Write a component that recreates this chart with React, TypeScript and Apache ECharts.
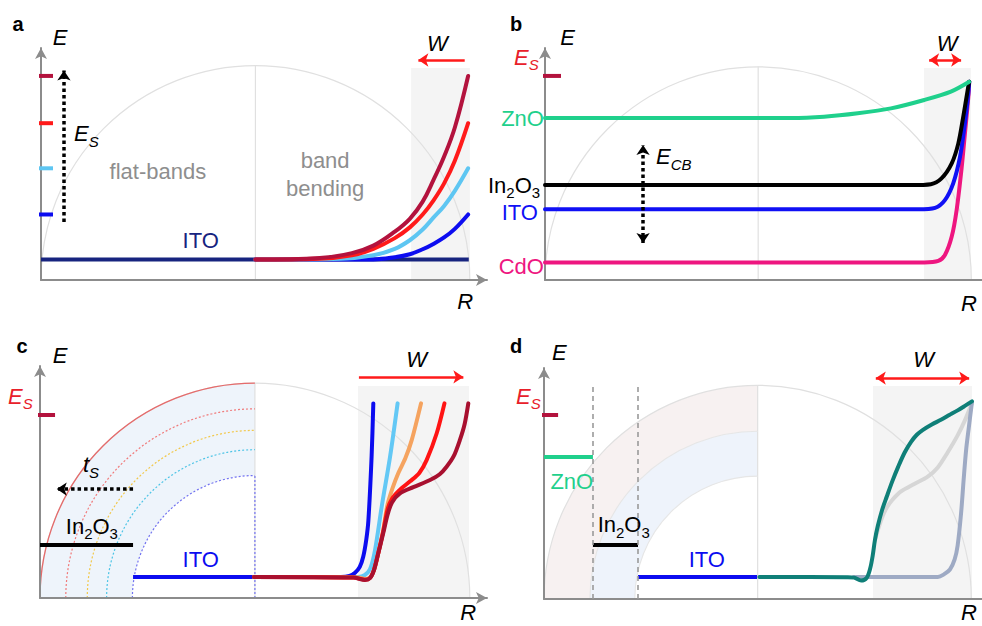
import { useEffect, useRef } from "react";
import * as echarts from "echarts";

type Pt = [number, number];
type Tok = [string, boolean]; // [text, subscript?]

const FONT = '"Liberation Sans", Arial, Helvetica, sans-serif';

// ---------- a: ITO nanocrystal, band bending for rising surface energy E_S ----------
const aSurfaceLevels = [95, 73, 52, 30.5];
const aLevelColors = ["#b3123d", "#ff1a1a", "#5ec6f2", "#0c0cf0"];
const aItoLevel = 9.5;
const aBendBlue: Pt[] = [[100, 9.5], [155, 9.6], [165, 10.6], [172, 12], [178, 14.3], [183, 16.8], [188, 19.8], [193, 23.8], [199.2, 30.5]];
const aBendLightBlue: Pt[] = [[100, 9.5], [140, 9.9], [155, 11.5], [165, 14.5], [172, 18.5], [178, 23.5], [183, 29], [188, 34.5], [193, 41.5], [199.2, 52]];
const aBendRed: Pt[] = [[100, 9.5], [130, 9.9], [145, 11.5], [155, 14.5], [165, 19.5], [172, 24.5], [178, 30.5], [183, 37], [188, 45], [193, 55.5], [199.2, 73]];
const aBendDarkRed: Pt[] = [[100, 9.5], [130, 10.2], [145, 12.5], [155, 16], [165, 22.5], [172, 28.5], [178, 36.5], [183, 46.5], [188, 57.5], [193, 71], [199.2, 95]];

// ---------- b: same E_S, different bulk conduction-band levels ----------
const bSurfaceLevel = 95;
const bColors = ["#1fd08c", "#000000", "#1010f5", "#ee1680"];
const bZnO: Pt[] = [[0, 75.4], [115.4, 75.4], [130.9, 76], [146.7, 77.6], [162.3, 79.9], [177.9, 83.8], [190.4, 87.7], [199, 92.3]];
const bIn2O3: Pt[] = [[0, 44.2], [172, 44.2], [181, 44.6], [186, 47.3], [190.8, 54.3], [193.9, 63.6], [196.2, 76], [198.3, 88.5], [199, 92.3]];
const bIto: Pt[] = [[0, 32.9], [175, 32.9], [183, 33.6], [187.6, 37.2], [191.5, 45], [194.7, 57.4], [197, 73], [198.6, 86.9], [199, 92.3]];
const bCdO: Pt[] = [[0, 8.2], [178, 8.2], [184.5, 8.9], [187.6, 11.6], [190.8, 20.2], [193.1, 32.6], [195.5, 52.7], [197, 68.3], [198.6, 85.3], [199, 92.3]];

// ---------- c: ITO core with In2O3 shell of growing thickness t_S ----------
const cSurfaceLevel = 85.2;
const cIn2O3Level = 24.7;
const cItoLevel = 9.8;
const cBlue: Pt[] = [[99.6, 9.8], [140, 9.8], [144, 10.3], [146.6, 11.8], [148.8, 14.5], [150.4, 19.2], [151.8, 27], [152.8, 36], [154.3, 65.8], [155.1, 90.6]];
const cLightBlue: Pt[] = [[99.6, 9.8], [148, 9.8], [151, 10.6], [153.6, 13.5], [155.9, 22.3], [159, 42.5], [162.9, 65.8], [166.4, 90.6]];
const cOrange: Pt[] = [[99.6, 9.8], [148, 9.6], [151.2, 8.8], [153.6, 9.6], [155.4, 13], [157.2, 20], [159.7, 31.5], [161.6, 43], [164, 51], [166.7, 58.1], [170, 65], [173, 73.6], [177.3, 90.6]];
const cRed: Pt[] = [[99.6, 9.8], [145.8, 9.5], [151.2, 8.5], [153.6, 9.4], [155.4, 13], [157.2, 20], [159.7, 31], [161.8, 41.5], [164, 46.5], [167, 50], [172.2, 54.3], [176.5, 58.2], [179.9, 64.2], [184.6, 76.7], [188.2, 90.6]];
const cDarkRed: Pt[] = [[99.6, 9.8], [145.8, 9.5], [151.2, 8.4], [153.6, 9.3], [155.4, 13], [157.2, 20], [159.7, 30.1], [161.8, 39], [163.8, 44.5], [167.5, 48.7], [173.7, 51.6], [181.5, 54.9], [186, 57.6], [189.2, 61.1], [192.5, 66], [195.4, 73.6], [197.6, 81], [199.3, 90.6]];

// ---------- d: ZnO / In2O3 / ITO multi-shell ----------
const dSurfaceLevel = 86;
const dZnOLevel = 66.4;
const dIn2O3Level = 25.2;
const dItoLevel = 10.3;
const dTeal: Pt[] = [[100.8, 10.3], [142, 10.2], [145.2, 10], [148.4, 8.6], [151, 9.8], [152.6, 14], [153.8, 20], [154.9, 27.6], [156.2, 34], [158.2, 41.5], [160.4, 47.8], [163, 55], [165.8, 61.9], [168.8, 68.5], [171.8, 73.5], [174.5, 76.8], [177.2, 79], [181.5, 81.6], [185.8, 83.8], [189.7, 86], [193.6, 88.2], [197, 90.3], [200.3, 92.4]];
const dGray: Pt[] = [[154.9, 27.6], [157, 34.5], [158.8, 39.5], [160.6, 43], [163, 46.3], [167.1, 50.3], [173.3, 53.8], [179.6, 57.2], [184.3, 61.5], [188.9, 68.5], [193.6, 76.5], [197, 83.5], [200.3, 91.6]];
const dGrayBlue: Pt[] = [[145, 10.3], [184.3, 10.3], [187, 11.4], [190, 13.8], [192.2, 18.5], [193.6, 25], [195.2, 40], [196.5, 57], [197.6, 70], [198.8, 80], [200.3, 92]];

// layout of the four panels (pixels)
const GRIDS = [
  { left: 41, top: 48, width: 446, height: 232 },
  { left: 545, top: 48, width: 437, height: 232 },
  { left: 40, top: 366, width: 447, height: 232 },
  { left: 544, top: 368, width: 438, height: 231 },
];
const X_MAX = [208, 205, 208, 205];
const X_ARROW = [true, false, true, false];
const AXIS_GRAY = "#8c8c8c";
const ARC_GRAY = "#e0e0e0";

function lineSeries(g: number, data: Pt[], color: string, width = 4, smooth: number | boolean = 0.3, cap = "round") {
  return {
    type: "line",
    xAxisIndex: g,
    yAxisIndex: g,
    data,
    symbol: "none",
    showSymbol: false,
    smooth,
    clip: false,
    silent: true,
    z: 4,
    lineStyle: { color, width, cap, join: "round" },
    emphasis: { disabled: true },
  };
}

function level(g: number, x0: number, x1: number, y: number, color: string, width = 4) {
  return lineSeries(g, [[x0, y], [x1, y]], color, width, false, "butt");
}

function arrow(g: number, from: Pt, to: Pt, color: string, width: number, dash: any, symbols: [string, string], size = 10) {
  return {
    type: "line",
    xAxisIndex: g,
    yAxisIndex: g,
    data: [],
    silent: true,
    z: 5,
    markLine: {
      silent: true,
      symbol: symbols,
      symbolSize: size,
      label: { show: false },
      emphasis: { disabled: true },
      lineStyle: { color, width, type: dash },
      data: [[{ coord: from }, { coord: to }]],
    },
  };
}

function shade(g: number, x0: number, x1: number, yTop: number) {
  return {
    type: "line",
    xAxisIndex: g,
    yAxisIndex: g,
    data: [],
    silent: true,
    z: 1,
    markArea: {
      silent: true,
      itemStyle: { color: "#f4f4f4" },
      label: { show: false },
      emphasis: { disabled: true },
      data: [[{ coord: [x0, 0] }, { coord: [x1, yTop] }]],
    },
  };
}

function buildOption() {
  const xAxis = GRIDS.map((_, g) => ({
    type: "value",
    gridIndex: g,
    min: 0,
    max: X_MAX[g],
    z: 3,
    axisLine: {
      show: true,
      onZero: false,
      lineStyle: { color: AXIS_GRAY, width: 2 },
      symbol: X_ARROW[g] ? ["none", "arrow"] : ["none", "none"],
      symbolSize: [9, 11],
    },
    axisTick: { show: false },
    axisLabel: { show: false },
    splitLine: { show: false },
  }));
  const yAxis = GRIDS.map((_, g) => ({
    type: "value",
    gridIndex: g,
    min: 0,
    max: 108,
    z: 3,
    axisLine: {
      show: true,
      onZero: false,
      lineStyle: { color: AXIS_GRAY, width: 2 },
      symbol: ["none", "arrow"],
      symbolSize: [9, 11],
    },
    axisTick: { show: false },
    axisLabel: { show: false },
    splitLine: { show: false },
  }));

  const series: any[] = [];

  // a
  series.push(shade(0, 172.6, 200, 98.7));
  aSurfaceLevels.forEach((y, i) => series.push(level(0, -8.4, 5.6, y, aLevelColors[i])));
  series.push(level(0, 0, 199.5, aItoLevel, "#17247f"));
  series.push(lineSeries(0, aBendBlue, aLevelColors[3], 4, 0.4));
  series.push(lineSeries(0, aBendLightBlue, aLevelColors[2], 4, 0.4));
  series.push(lineSeries(0, aBendRed, aLevelColors[1], 4, 0.4));
  series.push(lineSeries(0, aBendDarkRed, aLevelColors[0], 4, 0.4));
  series.push(arrow(0, [10.7, 27], [10.7, 97.5], "#000", 3.5, [3.5, 3], ["none", "arrow"], 10));
  series.push(arrow(0, [197.6, 102.4], [176, 102.4], "#ff1a1a", 2.5, "solid", ["none", "arrow"], 10));

  // b
  series.push(shade(1, 177.8, 199.8, 98.7));
  series.push(level(1, -7.5, 7.5, bSurfaceLevel, "#b3123d"));
  series.push(lineSeries(1, bCdO, bColors[3]));
  series.push(lineSeries(1, bIto, bColors[2]));
  series.push(lineSeries(1, bIn2O3, bColors[1]));
  series.push(lineSeries(1, bZnO, bColors[0]));
  series.push(arrow(1, [46, 17.2], [46, 62.9], "#000", 3.5, [3.5, 3], ["arrow", "arrow"], 10));
  series.push(arrow(1, [180.2, 102.4], [195.2, 102.4], "#ff1a1a", 2.5, "solid", ["arrow", "arrow"], 10));

  // c
  series.push(shade(2, 148, 199.6, 98.7));
  series.push(level(2, -7, 7, cSurfaceLevel, "#b3123d"));
  series.push(level(2, 0, 43.3, cIn2O3Level, "#000"));
  series.push(level(2, 43.3, 99.6, cItoLevel, "#0c0cf0"));
  series.push(lineSeries(2, cBlue, "#0c0cf0"));
  series.push(lineSeries(2, cLightBlue, "#63c8f5"));
  series.push(lineSeries(2, cOrange, "#f5a35f"));
  series.push(lineSeries(2, cRed, "#ff1414"));
  series.push(lineSeries(2, cDarkRed, "#a8102f"));
  series.push(arrow(2, [43.3, 50.7], [7.8, 50.7], "#000", 3.5, [3.5, 3], ["none", "arrow"], 10));
  series.push(arrow(2, [148.4, 102.9], [197, 102.9], "#ff1a1a", 2.5, "solid", ["none", "arrow"], 10));

  // d
  series.push(shade(3, 154, 200.3, 99.6));
  series.push(level(3, -8, 6.6, dSurfaceLevel, "#b3123d"));
  series.push(level(3, 0, 22.9, dZnOLevel, "#1fd08c"));
  series.push(level(3, 22.9, 44, dIn2O3Level, "#000"));
  series.push(level(3, 44, 99.7, dItoLevel, "#0c0cf0"));
  series.push(lineSeries(3, dGray, "#d6d6d6"));
  series.push(lineSeries(3, dGrayBlue, "#9eaac4"));
  series.push(lineSeries(3, dTeal, "#0f7f78"));
  series.push(arrow(3, [22.9, 0], [22.9, 100], "#9a9a9a", 1.6, [5, 4], ["none", "none"], 0));
  series.push(arrow(3, [44, 0], [44, 100], "#9a9a9a", 1.6, [5, 4], ["none", "none"], 0));
  series.push(arrow(3, [155.3, 103.3], [199, 103.3], "#ff1a1a", 2.5, "solid", ["arrow", "arrow"], 10));

  return { animation: false, grid: GRIDS, xAxis, yAxis, series };
}

interface Label {
  g: number;
  x: number;
  y: number;
  toks: Tok[];
  color: string;
  size?: number;
  italic?: boolean;
  bold?: boolean;
  align?: string;
  lh?: number;
}

const t = (s: string): Tok[] => [[s, false]];
const IN2O3: Tok[] = [["In", false], ["2", true], ["O", false], ["3", true]];
const ES: Tok[] = [["E", false], ["S", true]];

const LABELS: Label[] = [
  // a
  { g: 0, x: -10.7, y: 119.2, toks: t("a"), color: "#000", size: 20, bold: true },
  { g: 0, x: 8.9, y: 113.1, toks: t("E"), color: "#000", italic: true },
  { g: 0, x: 197.8, y: -10.2, toks: t("R"), color: "#000", italic: true },
  { g: 0, x: 184.9, y: 110.2, toks: t("W"), color: "#000", italic: true },
  { g: 0, x: 15.4, y: 68, toks: ES, color: "#000", italic: true, align: "left" },
  { g: 0, x: 54.5, y: 50.4, toks: t("flat-bands"), color: "#8e8e8e" },
  { g: 0, x: 132.5, y: 49.3, toks: [["band", false], ["\n", false], ["bending", false]], color: "#8e8e8e", lh: 28 },
  { g: 0, x: 74.5, y: 18.6, toks: t("ITO"), color: "#17247f" },
  // b
  { g: 1, x: -13.6, y: 119.2, toks: t("b"), color: "#000", size: 20, bold: true },
  { g: 1, x: 10.6, y: 113.1, toks: t("E"), color: "#000", italic: true },
  { g: 1, x: 198.9, y: -11, toks: t("R"), color: "#000", italic: true },
  { g: 1, x: 188.6, y: 110.3, toks: t("W"), color: "#000", italic: true },
  { g: 1, x: -14.5, y: 103.8, toks: ES, color: "#e8202a", italic: true, align: "left" },
  { g: 1, x: -0.5, y: 75.3, toks: t("ZnO"), color: "#1fd08c", align: "right" },
  { g: 1, x: -2.3, y: 44.2, toks: IN2O3, color: "#000", align: "right" },
  { g: 1, x: -3.3, y: 31.2, toks: t("ITO"), color: "#1010f5", align: "right" },
  { g: 1, x: -0.5, y: 6.2, toks: t("CdO"), color: "#ee1680", align: "right" },
  { g: 1, x: 52.1, y: 57.4, toks: [["E", false], ["CB", true]], color: "#000", italic: true, align: "left" },
  // c
  { g: 2, x: -8.4, y: 117.2, toks: t("c"), color: "#000", size: 20, bold: true },
  { g: 2, x: 9.3, y: 112.7, toks: t("E"), color: "#000", italic: true },
  { g: 2, x: 199.2, y: -6.9, toks: t("R"), color: "#000", italic: true },
  { g: 2, x: 175.3, y: 110.9, toks: t("W"), color: "#000", italic: true },
  { g: 2, x: -14.9, y: 93.9, toks: ES, color: "#e8202a", italic: true, align: "left" },
  { g: 2, x: 20, y: 62.1, toks: [["t", false], ["S", true]], color: "#000", italic: true, align: "left" },
  { g: 2, x: 12, y: 33.4, toks: IN2O3, color: "#000", align: "left" },
  { g: 2, x: 74.8, y: 17.8, toks: t("ITO"), color: "#0c0cf0" },
  // d
  { g: 3, x: -13.1, y: 118.1, toks: t("d"), color: "#000", size: 20, bold: true },
  { g: 3, x: 7.2, y: 115.3, toks: t("E"), color: "#000", italic: true },
  { g: 3, x: 198.9, y: -6.5, toks: t("R"), color: "#000", italic: true },
  { g: 3, x: 177.7, y: 111.9, toks: t("W"), color: "#000", italic: true },
  { g: 3, x: -13.1, y: 94.8, toks: ES, color: "#e8202a", italic: true, align: "left" },
  { g: 3, x: 13, y: 55, toks: t("ZnO"), color: "#1fd08c" },
  { g: 3, x: 25.1, y: 34.7, toks: IN2O3, color: "#000", align: "left" },
  { g: 3, x: 76.2, y: 18.4, toks: t("ITO"), color: "#0c0cf0" },
];

function labelElement(l: Label, p: number[]) {
  const size = l.size ?? 22;
  const subSize = Math.round(size * 0.68);
  const base = {
    fill: l.color,
    fontFamily: FONT,
    fontStyle: l.italic ? "italic" : "normal",
    fontWeight: l.bold ? "bold" : "normal",
  };
  const text = l.toks.map(([s, sub]) => (s === "\n" ? "\n" : `{${sub ? "s" : "m"}|${s}}`)).join("");
  const lh = l.lh ?? size + 8;
  return {
    type: "text",
    x: p[0],
    y: p[1],
    z: 10,
    silent: true,
    style: {
      text,
      textAlign: l.align ?? "center",
      textVerticalAlign: "middle",
      rich: {
        m: { ...base, fontSize: size, lineHeight: lh },
        s: { ...base, fontSize: subSize, lineHeight: subSize + 1, verticalAlign: "bottom" },
      },
    },
  };
}

function buildGraphics(chart: any) {
  const P = (g: number, x: number, y: number) => chart.convertToPixel({ gridIndex: g }, [x, y]) as number[];
  const els: any[] = [];
  const arc = (cx: number, cy: number, r: number, a0: number, a1: number, stroke: string, lw: number, dash?: number[], z = 2) => ({
    type: "arc",
    silent: true,
    z,
    shape: { cx, cy, r, startAngle: a0, endAngle: a1, clockwise: true },
    style: { stroke, lineWidth: lw, fill: "none", lineDash: dash ?? null },
  });
  const vline = (x: number, y0: number, y1: number, stroke: string, lw: number, dash?: number[], z = 2) => ({
    type: "line",
    silent: true,
    z,
    shape: { x1: x, y1: y0, x2: x, y2: y1 },
    style: { stroke, lineWidth: lw, lineDash: dash ?? null },
  });
  const ring = (cx: number, cy: number, r0: number, r: number, fill: string) => ({
    type: "sector",
    silent: true,
    z: 0,
    shape: { cx, cy, r0, r, startAngle: Math.PI, endAngle: 1.5 * Math.PI, clockwise: true },
    style: { fill },
  });

  for (let g = 0; g < 4; g++) {
    const [cx, cy] = P(g, 100, 0);
    const u = (P(g, 200, 0)[0] - cx) / 100;
    const R = 100 * u;

    if (g === 2) {
      els.push(ring(cx, cy, 57 * u, R, "#eef4fb"));
    }
    if (g === 3) {
      els.push(ring(cx, cy, 78.5 * u, R, "#f7f1f1"));
      els.push(ring(cx, cy, 57.5 * u, 78.5 * u, "#eef3fb"));
    }

    els.push(arc(cx, cy, R, Math.PI, 2 * Math.PI, ARC_GRAY, 1.2));
    els.push(vline(cx, cy, cy - R, ARC_GRAY, 1.2));

    if (g === 2) {
      els.push(arc(cx, cy, R, Math.PI, 1.5 * Math.PI, "#e56b6b", 1.3, undefined, 3));
      const shells: [number, string][] = [[88, "#f07a7a"], [78, "#f2c84a"], [69, "#4cc4e6"], [57, "#7272f0"]];
      shells.forEach(([r, c]) => els.push(arc(cx, cy, r * u, Math.PI, 1.5 * Math.PI, c, 1.2, [2, 2], 3)));
      els.push(vline(cx, cy, cy - 57 * u, "#7272f0", 1.2, [2, 2], 3));
    }
    if (g === 3) {
      els.push(arc(cx, cy, 78.5 * u, Math.PI, 1.5 * Math.PI, "#e6e6e6", 1.1));
      els.push(arc(cx, cy, 57.5 * u, Math.PI, 1.5 * Math.PI, "#e6e6e6", 1.1));
    }
  }

  LABELS.forEach((l) => els.push(labelElement(l, P(l.g, l.x, l.y))));
  return els;
}

export default function App() {
  const ref = useRef<HTMLDivElement>(null);
  useEffect(() => {
    document.body.style.margin = "0";
    const chart = echarts.init(ref.current!, null, { renderer: "svg" });
    chart.setOption(buildOption() as any);
    chart.setOption({ graphic: { elements: buildGraphics(chart) } } as any);
    return () => chart.dispose();
  }, []);
  return <div ref={ref} style={{ width: 982, height: 626, background: "#fff" }} />;
}
